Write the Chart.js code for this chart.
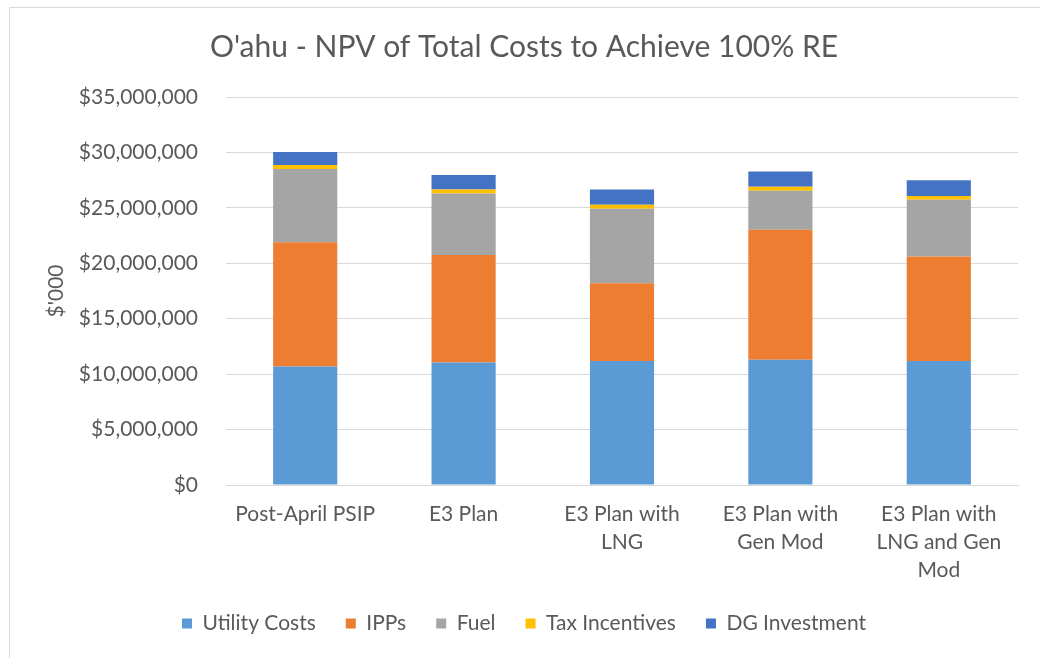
<!DOCTYPE html>
<html>
<head>
<meta charset="utf-8">
<script src="https://cdn.jsdelivr.net/npm/chart.js@4/dist/chart.umd.min.js"></script>
<style>
  body { margin: 0; background: #fff; }
  #wrap { position: relative; width: 1040px; height: 658px; }
  #frame { position: absolute; left: 9px; top: 7px; right: 0; bottom: 0;
           border-left: 1px solid #d9d9d9; border-top: 1px solid #d9d9d9; }
  canvas { position: absolute; left: 0; top: 0; }
</style>
</head>
<body>
<div id="wrap">
  <div id="frame"></div>
  <canvas id="chart" width="1040" height="658"></canvas>
</div>
<script>
const ctx = document.getElementById("chart");

// scenarios
const scenarios = [
  ["Post-April PSIP"],
  ["E3 Plan"],
  ["E3 Plan with", "LNG"],
  ["E3 Plan with", "Gen Mod"],
  ["E3 Plan with", "LNG and Gen", "Mod"]
];

// values in $'000
const utilityCosts  = [10700000, 11050000, 11180000, 11300000, 11180000];
const ipps          = [11200000,  9690000,  7010000, 11730000,  9440000];
const fuel          = [ 6600000,  5560000,  6720000,  3510000,  5110000];
const taxIncentives = [  360000,   360000,   360000,   360000,   330000];
const dgInvestment  = [ 1170000,  1310000,  1390000,  1390000,  1420000];

const yMax = 35000000;
const yStep = 5000000;

Chart.defaults.font.family = "Lato, 'Open Sans', sans-serif";
Chart.defaults.color = "#595959";

new Chart(ctx, {
  type: "bar",
  data: {
    labels: scenarios,
    datasets: [
      { label: "Utility Costs", data: utilityCosts, backgroundColor: "#5B9BD5" },
      { label: "IPPs", data: ipps, backgroundColor: "#ED7D31" },
      { label: "Fuel", data: fuel, backgroundColor: "#A5A5A5" },
      { label: "Tax Incentives", data: taxIncentives, backgroundColor: "#FFC000" },
      { label: "DG Investment", data: dgInvestment, backgroundColor: "#4472C4" }
    ]
  },
  options: {
    responsive: false,
    animation: false,
    layout: { padding: { left: 30, right: 22, top: 29, bottom: 14 } },
    datasets: {
      bar: { barPercentage: 0.405, categoryPercentage: 1 }
    },
    plugins: {
      title: {
        display: true,
        text: "O'ahu - NPV of Total Costs to Achieve 100% RE",
        color: "#595959",
        font: { size: 30, weight: "normal" },
        padding: { top: 0, bottom: 32 }
      },
      legend: {
        position: "bottom",
        labels: {
          boxWidth: 10,
          boxHeight: 10,
          padding: 30,
          font: { size: 21 },
          color: "#595959"
        }
      },
      tooltip: { enabled: false }
    },
    scales: {
      x: {
        stacked: true,
        grid: { display: false },
        border: { color: "#d9d9d9" },
        ticks: {
          maxRotation: 0,
          autoSkip: false,
          padding: 7,
          font: { size: 21, lineHeight: 1.33 },
          color: "#595959"
        },
        afterFit: (scale) => { scale.height = 98; }
      },
      y: {
        stacked: true,
        min: 0,
        max: yMax,
        border: { display: false },
        grid: { color: "#d9d9d9", drawTicks: false },
        ticks: {
          stepSize: yStep,
          padding: 28,
          font: { size: 21 },
          color: "#595959",
          callback: (v) => "$" + v.toLocaleString("en-US")
        },
        title: {
          display: true,
          text: "$'000",
          color: "#595959",
          font: { size: 21 },
          padding: { top: 14, bottom: 0 }
        },
        afterFit: (scale) => { scale.width = 196; }
      }
    }
  }
});
</script>
</body>
</html>
